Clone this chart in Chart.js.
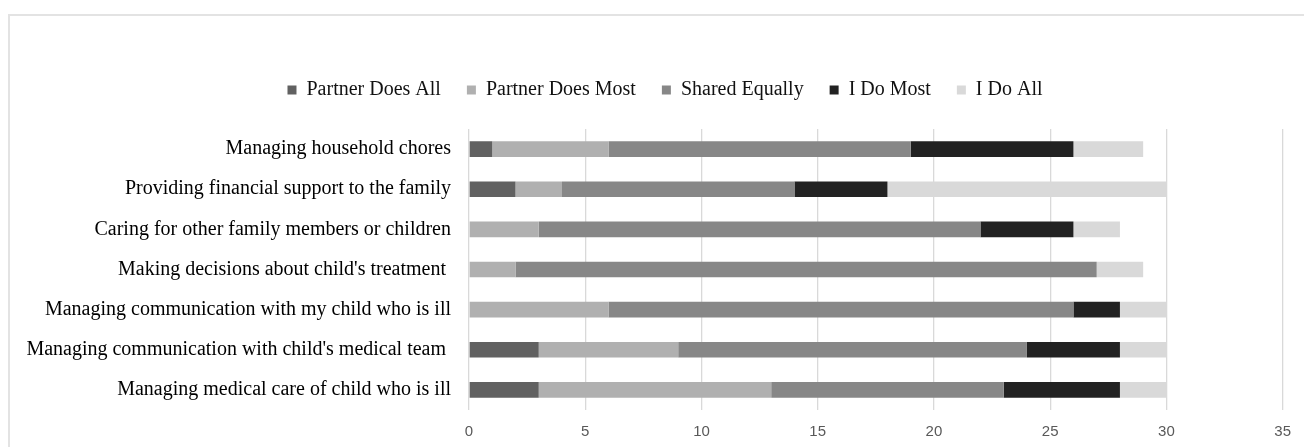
<!DOCTYPE html>
<html>
<head>
<meta charset="utf-8">
<script src="https://cdn.jsdelivr.net/npm/chart.js@4"></script>
<style>
    html, body { margin: 0; padding: 0; background: #fff; }
    #wrap { position: relative; width: 1304px; height: 447px; overflow: hidden; }
    #frame { position: absolute; left: 8px; top: 14px; width: 1400px; height: 500px;
             border-left: 2px solid #e3e3e3; border-top: 2px solid #e3e3e3; }
    #chart { position: absolute; left: 0; top: 0; }
</style>
</head>
<body>
<div id="wrap">
    <div id="frame"></div>
    <canvas id="chart" width="1304" height="447"></canvas>
</div>
<script>
const categories = [
    'Managing household chores',
    'Providing financial support to the family',
    'Caring for other family members or children',
    "Making decisions about child's treatment ",
    'Managing communication with my child who is ill',
    "Managing communication with child's medical team ",
    'Managing medical care of child who is ill'
];
const seriesNames = ['Partner Does All', 'Partner Does Most', 'Shared Equally', 'I Do Most', 'I Do All'];
const partnerDoesAll = [1, 2, 0, 0, 0, 3, 3];
const partnerDoesMost = [5, 2, 3, 2, 6, 6, 10];
const sharedEqually = [13, 10, 19, 25, 20, 15, 10];
const iDoMost = [7, 4, 4, 0, 2, 4, 5];
const iDoAll = [3, 12, 2, 2, 2, 2, 2];
const xTicks = [0, 5, 10, 15, 20, 25, 30, 35];

const colors = ['#616161', '#b0b0b0', '#878787', '#222222', '#d9d9d9'];
const values = [partnerDoesAll, partnerDoesMost, sharedEqually, iDoMost, iDoAll];

// legend sits a bit right of the canvas centre in the original
const legendShift = {
    id: 'legendShift',
    beforeDraw(chart) {
        const lg = chart.legend;
        if (lg && !lg._shifted) {
            lg.left += 22;
            lg.right += 22;
            lg._shifted = true;
        }
    }
};

new Chart(document.getElementById('chart'), {
    type: 'bar',
    data: {
        labels: categories,
        datasets: seriesNames.map((name, i) => ({
            label: name,
            data: values[i],
            backgroundColor: colors[i],
            borderWidth: 0,
            barPercentage: 0.39,
            categoryPercentage: 1
        }))
    },
    plugins: [legendShift],
    options: {
        indexAxis: 'y',
        responsive: false,
        animation: false,
        layout: {
            padding: { left: 0, right: 18, top: 54, bottom: 6 }
        },
        plugins: {
            tooltip: { enabled: false },
            legend: {
                position: 'top',
                weight: 3000,
                labels: {
                    boxWidth: 9,
                    boxHeight: 9,
                    padding: 26,
                    color: '#111',
                    font: { family: 'Liberation Serif', size: 20 }
                }
            },
            // empty title used as a spacer between legend and bars
            title: {
                display: true,
                text: ' ',
                font: { size: 10 },
                padding: { top: 4, bottom: 3 }
            }
        },
        scales: {
            x: {
                stacked: true,
                min: 0,
                max: 35,
                afterBuildTicks: (scale) => {
                    scale.ticks = xTicks.map(v => ({ value: v }));
                },
                afterFit: (scale) => { scale.height = 31; },
                grid: { color: '#d9d9d9', lineWidth: 1.3, drawTicks: false },
                border: { display: false },
                ticks: {
                    padding: 13,
                    color: '#595959',
                    font: { family: 'Liberation Sans', size: 15 }
                }
            },
            y: {
                stacked: true,
                afterFit: (scale) => { scale.width = 469; },
                grid: { display: false, drawTicks: false },
                border: { display: false },
                ticks: {
                    padding: 18,
                    color: '#000',
                    font: { family: 'Liberation Serif', size: 20 }
                }
            }
        }
    }
});
</script>
</body>
</html>
